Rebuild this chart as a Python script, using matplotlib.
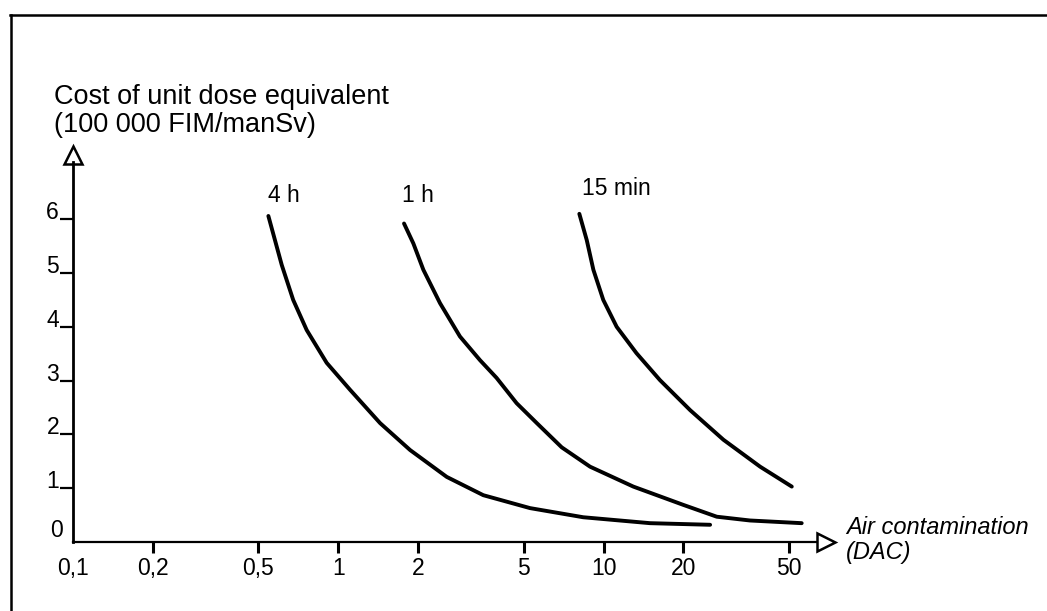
import matplotlib
matplotlib.use("Agg")
import matplotlib.pyplot as plt
from matplotlib.lines import Line2D

plt.rcParams["font.family"] = ["Liberation Sans", "DejaVu Sans"]

# Air contamination (DAC) vs. cost of unit dose equivalent (100 000 FIM/manSv)
x_4h = [0.545, 0.612, 0.676, 0.76, 0.904, 1.107, 1.437, 1.864, 2.563, 3.52, 5.28, 8.38, 14.96, 25.2]
y_4h = [6.06, 5.15, 4.50, 3.94, 3.33, 2.83, 2.21, 1.71, 1.21, 0.87, 0.63, 0.46, 0.35, 0.32]

x_1h = [1.769, 1.918, 2.092, 2.417, 2.874, 3.42, 3.95, 4.70, 5.60, 6.95, 8.89, 12.94, 19.97, 26.7, 35.6, 55.8]
y_1h = [5.92, 5.55, 5.06, 4.44, 3.82, 3.38, 3.05, 2.58, 2.21, 1.76, 1.40, 1.03, 0.69, 0.47, 0.40, 0.35]

x_15min = [8.10, 8.64, 9.15, 9.97, 11.2, 13.3, 16.3, 21.2, 28.3, 38.9, 51.2]
y_15min = [6.10, 5.61, 5.06, 4.50, 4.00, 3.51, 3.01, 2.45, 1.90, 1.40, 1.03]

curve_names = ["4 h", "1 h", "15 min"]
curve_label_pos = [(0.543, 6.32), (1.734, 6.32), (8.27, 6.45)]

x_ticks = [0.1, 0.2, 0.5, 1, 2, 5, 10, 20, 50]
x_tick_labels = ["0,1", "0,2", "0,5", "1", "2", "5", "10", "20", "50"]
y_ticks = [1, 2, 3, 4, 5, 6]
y_tick_labels = ["1", "2", "3", "4", "5", "6"]

W, H = 1047, 611
fig = plt.figure(figsize=(W / 100, H / 100), dpi=100)

# axes: origin at (73, 542) px, x-arrow tip at 835 px, y-arrow tip at 146 px
ax_top = 146
ax = fig.add_axes([73 / W, (H - 542) / H, (835 - 73) / W, (542 - ax_top) / H])
ax.set_xscale("log")
ax.set_xlim(0.1, 74.5)
ax.set_ylim(0, (542 - ax_top) / 53.8)
ax.patch.set_visible(False)

for sp in ["top", "right"]:
    ax.spines[sp].set_visible(False)
ax.spines["left"].set_linewidth(2.0)
ax.spines["bottom"].set_linewidth(1.6)
ax.spines["left"].set_bounds(0, (542 - 162) / 53.8)
ax.spines["bottom"].set_bounds(0.1, 63.2)

# open arrow heads on both axes
ax.plot([0], [(542 - 155) / (542 - ax_top)], marker="^", ms=13, mfc="white", mec="black",
        mew=1.8, transform=ax.transAxes, clip_on=False)
ax.plot([(826 - 73) / 762], [0], marker=">", ms=13, mfc="white", mec="black",
        mew=1.8, transform=ax.transAxes, clip_on=False)

# curves
for xs, ys in [(x_4h, y_4h), (x_1h, y_1h), (x_15min, y_15min)]:
    ax.plot(xs, ys, color="black", lw=2.8, solid_capstyle="round", solid_joinstyle="round")

for name, (lx, ly) in zip(curve_names, curve_label_pos):
    ax.text(lx, ly, name, fontsize=16.5, ha="left", va="baseline")

# ticks
ax.xaxis.set_minor_locator(matplotlib.ticker.NullLocator())
ax.set_xticks(x_ticks)
ax.set_xticklabels(x_tick_labels, fontsize=16.5)
ax.tick_params(axis="x", direction="out", length=8, width=2.2, pad=3)
ax.xaxis.get_major_ticks()[0].tick1line.set_visible(False)

ax.set_yticks(y_ticks)
ax.set_yticklabels(y_tick_labels, fontsize=16.5)
ax.tick_params(axis="y", direction="out", length=9.5, width=1.6, pad=0.5)
for lab in ax.get_yticklabels():
    lab.set_va("baseline")
ax.annotate("0", xy=(0.1, 0), xycoords="data", xytext=(-7.5, 3.6),
            textcoords="offset points", ha="right", va="baseline", fontsize=16.5)

# axis titles
fig.text(54 / W, 1 - 104 / H, "Cost of unit dose equivalent", fontsize=19.5,
         ha="left", va="baseline")
fig.text(54 / W, 1 - 132 / H, "(100 000 FIM/manSv)", fontsize=19.5,
         ha="left", va="baseline")
fig.text(846 / W, 1 - 534 / H, "Air contamination", fontsize=17, style="italic",
         ha="left", va="baseline")
fig.text(846 / W, 1 - 559 / H, "(DAC)", fontsize=17, style="italic",
         ha="left", va="baseline")

# page frame
fig.add_artist(Line2D([10 / W, 1], [1 - 15 / H, 1 - 15 / H], color="black", lw=1.8))
fig.add_artist(Line2D([11 / W, 11 / W], [1 - 15 / H, 0], color="black", lw=1.8))

fig.savefig("out.png", dpi=100)
